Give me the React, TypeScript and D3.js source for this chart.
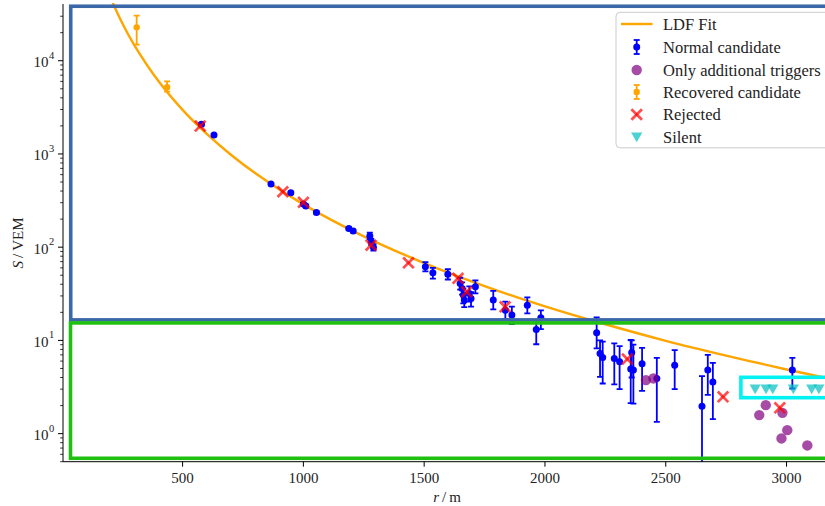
import React from "react";
import * as d3 from "d3";

// Normal candidates: distance r [m], signal S [VEM], lower / upper error
const normalR = [578, 630, 866, 948, 1000, 1010, 1054, 1188, 1206, 1275, 1281, 1290, 1505, 1536, 1598, 1649, 1657, 1662, 1666, 1687, 1694, 1712, 1786, 1836, 1863, 1927, 1964, 1983, 2214, 2228, 2239, 2287, 2309, 2355, 2359, 2366, 2402, 2463, 2537, 2650, 2674, 2695, 3024];
const normalS = [2078, 1595, 475, 383, 290, 276, 236, 159, 149, 132, 114, 100, 61.6, 53.1, 51.4, 40.9, 36.1, 30.6, 27.1, 31.9, 28.2, 37.6, 27.1, 21.1, 18.7, 23.9, 13.1, 17.5, 12.1, 7.25, 6.57, 6.41, 5.89, 4.92, 7.4, 4.8, 5.61, 3.91, 5.43, 1.97, 4.8, 3.57, 4.8];
const normalLo = [2010, 1550, 462, 372, 281, 267, 229, 154, 144, 121, 105, 92, 55, 46, 45, 35, 31, 25, 22.8, 26, 23, 32, 21.5, 17, 15, 19.5, 9.1, 13.2, 8.2, 4.06, 3.45, 3.37, 3.0, 2.12, 4.0, 2.1, 2.88, 1.34, 3.0, 0.3, 2.6, 1.43, 3.05];
const normalHi = [2150, 1640, 488, 394, 299, 285, 243, 164, 154, 143, 123, 108, 69, 60, 58, 47, 42, 36, 32.2, 38, 33, 44, 34, 26, 23, 29, 16.5, 21, 17.7, 10.0, 9.7, 9.3, 8.7, 10.1, 10.0, 9.0, 8.3, 6.5, 7.85, 4.14, 7.0, 5.75, 6.5];

// Recovered candidates
const recoveredR = [310, 436];
const recoveredS = [22800, 5185];
const recoveredLo = [14860, 4650];
const recoveredHi = [30400, 6010];

// Rejected stations
const rejectedR = [573, 915, 1000, 1280, 1435, 1640, 1676, 1835, 2341, 2737, 2972];
const rejectedS = [1992, 393, 303, 105, 68, 46.3, 33.2, 22.9, 6.3, 2.48, 1.89];

// Stations with only additional triggers
const additionalR = [2418, 2449, 2887, 2914, 2983, 2979, 3003, 3086];
const additionalS = [3.75, 3.91, 1.58, 2.02, 1.67, 0.888, 1.09, 0.747];

// Silent stations
const silentR = [2870, 2915, 2943, 3028, 3104, 3134];
const silentS = [3.0, 3.0, 3.0, 3.0, 3.0, 3.0];

// Lateral distribution function fit, tabulated
const ldfR = [200, 250, 300, 400, 500, 600, 700, 800, 1000, 1250, 1500, 1750, 2000, 2250, 2500, 2750, 3000, 3200];
const ldfS = [48600, 25350, 14700, 6050, 2970, 1640, 981, 624, 288, 130.7, 67.6, 38.3, 23.2, 14.9, 9.9, 6.87, 4.88, 3.78];

// Highlight boxes: [r0, r1, S0, S1]
const upperBox = [37, 3400, 16.6, 38400];
const lowerBox = [36, 3400, 0.544, 15.4];
const silentBox = [2811, 3400, 2.43, 4.02];

const xTicks = [500, 1000, 1500, 2000, 2500, 3000];
const yTickExps = [0, 1, 2, 3, 4];

const legendLabels = ["LDF Fit", "Normal candidate", "Only additional triggers", "Recovered candidate", "Rejected", "Silent"];

const W = 825;
const H = 506;
const left = 63;
const right = 825.2;
const top = 5;
const bottom = 461.7;

const FONT = "'Liberation Serif', 'DejaVu Serif', serif";

const BLUE = "#0000ff";
const ORANGE = "#ffa500";

function Cross({ cx, cy, s = 5.3 }: { cx: number; cy: number; s?: number }) {
  return (
    <g stroke="red" strokeOpacity={0.7} strokeWidth={2.7}>
      <line x1={cx - s} y1={cy - s} x2={cx + s} y2={cy + s} />
      <line x1={cx - s} y1={cy + s} x2={cx + s} y2={cy - s} />
    </g>
  );
}

function Tri({ cx, cy }: { cx: number; cy: number }) {
  return <path d={`M${cx - 5.6},${cy - 4.6}L${cx + 5.6},${cy - 4.6}L${cx},${cy + 5.2}Z`} fill="#00bfbf" fillOpacity={0.7} />;
}

function ErrPoint({ cx, cy, y0, y1, color, r = 3.5 }: { cx: number; cy: number; y0: number; y1: number; color: string; r?: number }) {
  const cap = 3;
  return (
    <g stroke={color} strokeWidth={1.8}>
      <line x1={cx} x2={cx} y1={y0} y2={y1} />
      <line x1={cx - cap} x2={cx + cap} y1={y0} y2={y0} />
      <line x1={cx - cap} x2={cx + cap} y1={y1} y2={y1} />
      <circle cx={cx} cy={cy} r={r} fill={color} stroke="none" />
    </g>
  );
}

export default function App() {
  const x = d3.scaleLinear().domain([5, 3160]).range([left, right]);
  const y = d3.scaleLog().domain([0.5, 39600]).range([bottom, top]);

  const ldfLine = d3
    .line<number>()
    .x((_, i) => x(ldfR[i]))
    .y((_, i) => y(ldfS[i]))
    .curve(d3.curveCatmullRom)(ldfS) as string;

  const minorTicks: number[] = [];
  for (let e = -1; e <= 4; e++) {
    for (let m = 2; m <= 9; m++) {
      const v = m * Math.pow(10, e);
      if (v >= 0.5 && v <= 39600) minorTicks.push(v);
    }
  }

  const box = (b: number[], color: string, key: string) => (
    <rect
      key={key}
      x={x(b[0])}
      y={y(b[3])}
      width={x(b[1]) - x(b[0])}
      height={y(b[2]) - y(b[3])}
      fill="none"
      stroke={color}
      strokeWidth={3.6}
    />
  );

  const legX = 636.7;
  const legTextX = 663;
  const legY = [24, 47, 70, 92, 114.5, 137];

  return (
    <svg
      width={W}
      height={H}
      style={{ position: "absolute", left: 0, top: 0, background: "#fff" }}
      fontFamily={FONT}
    >
      <defs>
        <clipPath id="plotArea">
          <rect x={left} y={top - 2} width={right - left} height={bottom - top + 2} />
        </clipPath>
      </defs>

      <g clipPath="url(#plotArea)">
        <path d={ldfLine} fill="none" stroke={ORANGE} strokeWidth={2.4} />

        {recoveredR.map((r, i) => (
          <ErrPoint key={`rc${i}`} cx={x(r)} cy={y(recoveredS[i])} y0={y(recoveredHi[i])} y1={y(recoveredLo[i])} color={ORANGE} r={3.2} />
        ))}

        {normalR.map((r, i) => (
          <ErrPoint key={`n${i}`} cx={x(r)} cy={y(normalS[i])} y0={y(normalHi[i])} y1={y(Math.max(normalLo[i], 0.45))} color={BLUE} />
        ))}

        {additionalR.map((r, i) => (
          <circle key={`a${i}`} cx={x(r)} cy={y(additionalS[i])} r={5.2} fill="purple" fillOpacity={0.7} />
        ))}

        {rejectedR.map((r, i) => (
          <Cross key={`x${i}`} cx={x(r)} cy={y(rejectedS[i])} />
        ))}

        {silentR.map((r, i) => (
          <Tri key={`s${i}`} cx={x(r)} cy={y(silentS[i])} />
        ))}

        {box(upperBox, "#3b68a8", "ub")}
        {box(lowerBox, "#20c010", "lb")}
        {box(silentBox, "#00f2f2", "sb")}
      </g>

      {/* axes spines */}
      <line x1={left} x2={left} y1={top - 1} y2={bottom} stroke="#000" strokeWidth={1} />
      <line x1={left} x2={right} y1={bottom} y2={bottom} stroke="#000" strokeWidth={1} />

      {/* x ticks */}
      {xTicks.map((t) => (
        <g key={`xt${t}`}>
          <line x1={x(t)} x2={x(t)} y1={bottom} y2={bottom + 5} stroke="#000" strokeWidth={1} />
          <text x={x(t)} y={483} textAnchor="middle" fontSize={15} fill="#222">
            {t}
          </text>
        </g>
      ))}

      {/* y ticks */}
      {minorTicks.map((v, i) => (
        <line key={`ym${i}`} x1={left - 2.8} x2={left} y1={y(v)} y2={y(v)} stroke="#000" strokeWidth={0.8} />
      ))}
      {yTickExps.map((e) => {
        const yy = y(Math.pow(10, e));
        return (
          <g key={`yt${e}`}>
            <line x1={left - 5} x2={left} y1={yy} y2={yy} stroke="#000" strokeWidth={1} />
            <text x={48.5} y={yy + 6.5} textAnchor="end" fontSize={15} fill="#222">
              10
            </text>
            <text x={49} y={yy - 2} textAnchor="start" fontSize={10.5} fill="#222">
              {e}
            </text>
          </g>
        );
      })}

      {/* axis labels */}
      <text x={447} y={502} textAnchor="middle" fontSize={15} fill="#222">
        <tspan fontStyle="italic">r</tspan>
        <tspan>{"\u2009/\u2009m"}</tspan>
      </text>
      <text transform="translate(23,243) rotate(-90)" textAnchor="middle" fontSize={15} fill="#222">
        <tspan fontStyle="italic">S</tspan>
        <tspan>{"\u2009/\u2009VEM"}</tspan>
      </text>

      {/* legend */}
      <rect x={616} y={12.3} width={230} height={135.5} rx={4} fill="#fff" fillOpacity={0.8} stroke="#cccccc" strokeWidth={1} />
      <line x1={621} x2={652.5} y1={legY[0]} y2={legY[0]} stroke={ORANGE} strokeWidth={2.4} />
      <ErrPoint cx={legX} cy={legY[1]} y0={legY[1] - 7} y1={legY[1] + 7} color={BLUE} />
      <circle cx={legX} cy={legY[2]} r={5.2} fill="purple" fillOpacity={0.7} />
      <ErrPoint cx={legX} cy={legY[3]} y0={legY[3] - 7} y1={legY[3] + 7} color={ORANGE} r={3.2} />
      <Cross cx={legX} cy={legY[4]} />
      <Tri cx={legX} cy={legY[5]} />
      {legendLabels.map((l, i) => (
        <text key={`lg${i}`} x={legTextX} y={legY[i] + 5.5} fontSize={16.5} fill="#222">
          {l}
        </text>
      ))}
    </svg>
  );
}
